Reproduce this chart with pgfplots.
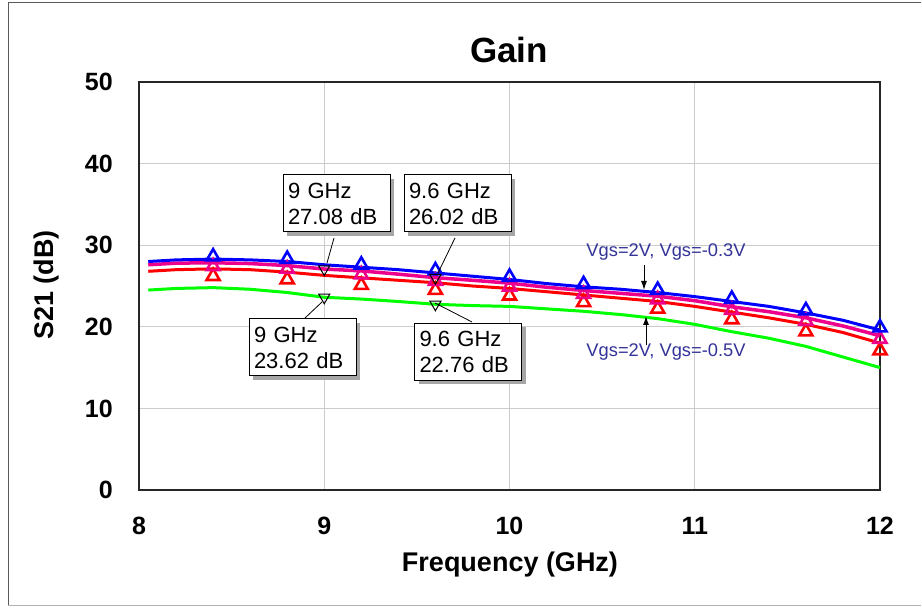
\documentclass[border=0pt]{standalone}
\usepackage{pgfplots}
\pgfplotsset{compat=1.18}
\usepackage{fontspec}
\setmainfont{Liberation Sans}
\usetikzlibrary{arrows.meta,shadows}
\definecolor{navy}{RGB}{51,51,153}
\begin{document}
\begin{tikzpicture}[x=1pt,y=1pt,
  box/.style={draw=black, line width=1pt, fill=white, inner sep=0pt, minimum width=107pt, minimum height=57pt, text width=97pt, align=left, font=\fontsize{22}{26}\selectfont, drop shadow={shadow xshift=4pt, shadow yshift=-4pt, fill=gray!70, opacity=1}}]
\path[use as bounding box] (0,0) rectangle (922,608);
\draw[gray!70!black, line width=1pt] (8,2) -- (8,605) -- (921,605);
\draw[gray!60, line width=1pt] (8,2) -- (921,2);
\begin{axis}[at={(139pt,118pt)}, anchor=south west, width=741pt, height=408pt, scale only axis,
  xmin=8, xmax=12, ymin=0, ymax=50, xtick={8,9,10,11,12}, ytick={0,10,20,30,40,50},
  grid=major, grid style={gray!40, line width=1pt}, major tick length=0pt,
  axis line style={gray!30!black, line width=1.3pt},
  tick label style={font=\fontsize{25}{28}\selectfont\bfseries},
  /pgf/number format/assume math mode=true,
  yticklabel style={inner sep=0pt, xshift=-26pt},
  xticklabel style={inner sep=0pt, yshift=-27pt},
  clip=false]
\addplot[green, line width=3pt, mark=none] coordinates {(8.05,24.5)(8.2,24.7)(8.4,24.8)(8.6,24.6)(8.8,24.2)(9.0,23.62)(9.2,23.4)(9.4,23.1)(9.6,22.76)(9.8,22.6)(10.0,22.5)(10.2,22.2)(10.4,21.9)(10.6,21.5)(10.8,21.0)(11.0,20.3)(11.2,19.4)(11.4,18.6)(11.6,17.6)(11.8,16.3)(12.0,15.0)};
\addplot[red, line width=3pt, mark=none] coordinates {(8.05,26.8)(8.2,27.0)(8.4,27.1)(8.6,27.0)(8.8,26.7)(9.0,26.3)(9.2,26.0)(9.4,25.7)(9.6,25.4)(9.8,25.0)(10.0,24.7)(10.2,24.3)(10.4,23.9)(10.6,23.5)(10.8,23.1)(11.0,22.5)(11.2,21.8)(11.4,21.1)(11.6,20.3)(11.8,19.3)(12.0,18.0)};
\addplot[magenta, line width=3.5pt, mark=none] coordinates {(8.05,27.6)(8.2,27.8)(8.4,27.85)(8.6,27.75)(8.8,27.5)(9.0,27.08)(9.2,26.85)(9.4,26.45)(9.6,26.02)(9.8,25.7)(10.0,25.35)(10.2,24.85)(10.4,24.45)(10.6,24.1)(10.8,23.75)(11.0,23.2)(11.2,22.45)(11.4,21.85)(11.6,21.1)(11.8,20.1)(12.0,18.9)};
\addplot[blue, line width=3pt, mark=none] coordinates {(8.05,28.0)(8.2,28.2)(8.4,28.3)(8.6,28.2)(8.8,28.0)(9.0,27.6)(9.2,27.3)(9.4,27.0)(9.6,26.6)(9.8,26.2)(10.0,25.8)(10.2,25.3)(10.4,24.9)(10.6,24.6)(10.8,24.2)(11.0,23.7)(11.2,23.1)(11.4,22.5)(11.6,21.7)(11.8,20.8)(12.0,19.6)};
\addplot[red, only marks, mark=triangle, mark size=7.5pt, line width=2.6pt] coordinates {(8.4,26.2)(8.8,25.8)(9.2,25.1)(9.6,24.5)(10.0,23.8)(10.4,23.0)(10.8,22.2)(11.2,20.9)(11.6,19.4)(12.0,17.1)};
\addplot[magenta, only marks, mark=triangle, mark size=7.5pt, line width=2.6pt] coordinates {(8.4,27.4)(8.8,27.1)(9.2,26.4)(9.6,25.6)(10.0,24.9)(10.4,24.0)(10.8,23.35)(11.2,22.05)(11.6,20.7)(12.0,18.5)};
\addplot[blue, only marks, mark=triangle, mark size=7.5pt, line width=2.6pt] coordinates {(8.4,28.6)(8.8,28.3)(9.2,27.6)(9.6,26.9)(10.0,26.1)(10.4,25.2)(10.8,24.5)(11.2,23.4)(11.6,22.0)(12.0,19.9)};
\addplot[black, only marks, mark=triangle, mark size=6.5pt, line width=1pt, mark options={rotate=180}] coordinates {(9,27.08)(9.6,26.02)(9,23.62)(9.6,22.76)};
\end{axis}
\node[font=\fontsize{35}{38}\selectfont\bfseries] at (509,558) {Gain};
\node[font=\fontsize{27}{30}\selectfont\bfseries] at (510,43) {Frequency (GHz)};
\node[font=\fontsize{27}{30}\selectfont\bfseries, rotate=90] at (47,323) {S21 (dB)};
\draw[black, line width=0.8pt] (334,370) -- (327,345);
\draw[black, line width=0.8pt] (455,370) -- (438,335);
\draw[black, line width=0.8pt] (305,290) -- (322,306);
\draw[black, line width=0.8pt] (472,286) -- (435,305);
\node[box] at (336.5,404.5) {9 GHz\\27.08 dB};
\node[box] at (457.5,404.5) {9.6 GHz\\26.02 dB};
\node[box] at (302.5,260.5) {9 GHz\\23.62 dB};
\node[box] at (468,256) {9.6 GHz\\22.76 dB};
\node[navy, font=\fontsize{18.3}{21}\selectfont] at (666,356) {Vgs=2V, Vgs=-0.3V};
\node[navy, font=\fontsize{18.3}{21}\selectfont] at (666,256) {Vgs=2V, Vgs=-0.5V};
\draw[-{Latex[length=9pt,width=6pt]}, line width=1pt] (644,343) -- (644,318);
\draw[-{Latex[length=9pt,width=6pt]}, line width=1pt] (646,263) -- (646,292);
\end{tikzpicture}
\end{document}
